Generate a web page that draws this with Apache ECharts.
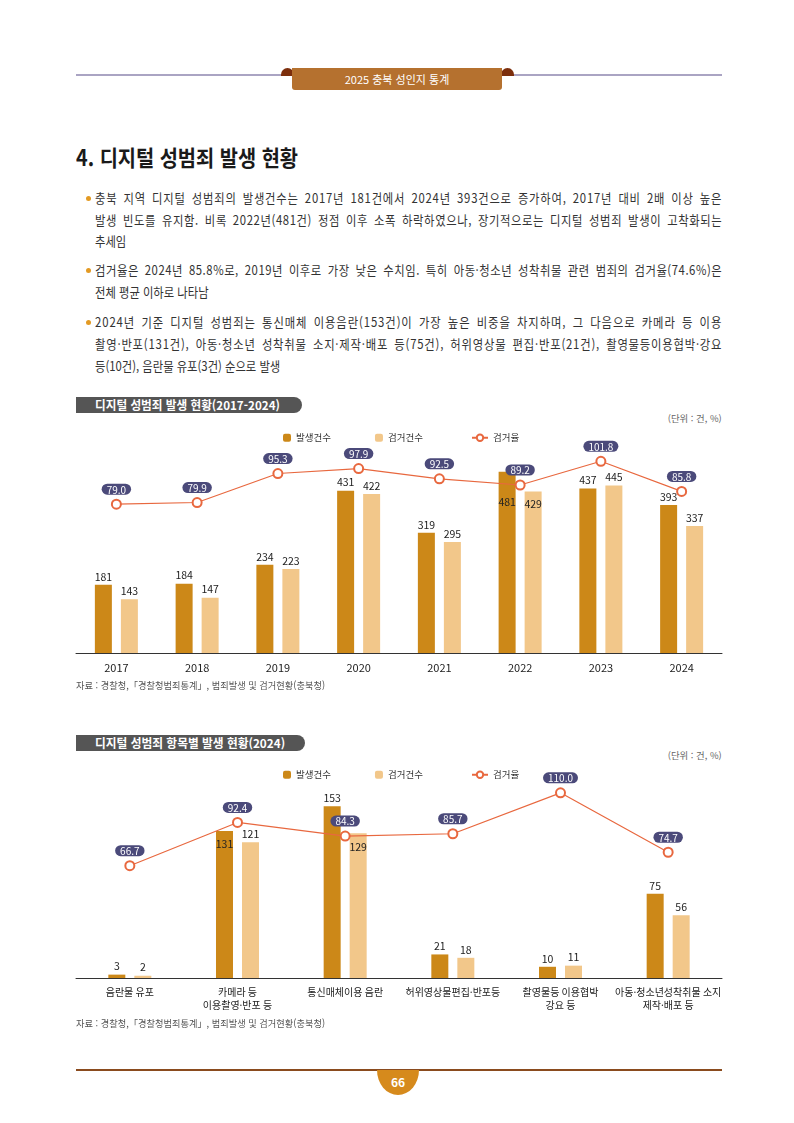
<!DOCTYPE html>
<html lang="ko">
<head>
<meta charset="utf-8">
<script src="https://cdn.jsdelivr.net/npm/echarts@6/dist/echarts.min.js"></script>
<style>
    body { margin: 0; background: #fff; font-family: 'Noto Sans CJK KR', 'Noto Sans', sans-serif; color: #222; }
    #page { position: relative; width: 794px; height: 1123px; overflow: hidden; }
    .abs { position: absolute; white-space: nowrap; }
    .fit { transform-origin: left center; }
    .line { position: absolute; left: 95px; width: 721px; height: 22px; line-height: 22px; font-size: 13px; color: #333;
        transform: scaleX(0.87); transform-origin: left center; white-space: nowrap; }
    .just { text-align: justify; text-align-last: justify; }
    .dot { position: absolute; left: 86px; width: 5px; height: 5px; border-radius: 50%; background: #e39a23; }
    .tab { position: absolute; left: 76px; height: 16px; background: #555; border-radius: 0 8px 8px 0; }
    .tab span { position: absolute; left: 19px; top: 0; line-height: 16px; font-size: 12px; font-weight: bold; color: #fff; white-space: nowrap; transform-origin: left center; }
    .unit { position: absolute; right: 72px; font-size: 9px; color: #666; white-space: nowrap; transform-origin: right center; }
    .src { position: absolute; left: 76px; font-size: 9.5px; color: #555; white-space: nowrap; transform-origin: left center; }
    .chart { position: absolute; left: 0; width: 794px; height: 320px; }
</style>
</head>
<body>
<div id="page">
    <!-- 상단 머리글 -->
    <div class="abs" style="left:76px;top:74px;width:646px;height:2px;background:#aaa4c3;"></div>
    <div class="abs" style="left:281px;top:68px;width:13px;height:8px;background:#7c2e0c;border-radius:7px 7px 0 0;"></div>
    <div class="abs" style="left:501px;top:68px;width:13px;height:8px;background:#7c2e0c;border-radius:7px 7px 0 0;"></div>
    <div class="abs" style="left:292px;top:68px;width:210px;height:22px;background:#b5712f;border-radius:0 0 3px 3px;
        color:#fff;font-size:11px;line-height:22px;text-align:center;">2025 충북 성인지 통계</div>

    <div class="abs fit" data-w="222" style="left:76px;top:141px;font-size:22px;font-weight:bold;color:#1a1a1a;line-height:30px;">4. 디지털 성범죄 발생 현황</div>

    <!-- 본문 -->
    <div class="dot" style="top:196px;"></div>
    <div class="line just" style="top:187px;">충북 지역 디지털 성범죄의 발생건수는 2017년 181건에서 2024년 393건으로 증가하여, 2017년 대비 2배 이상 높은</div>
    <div class="line just" style="top:209px;">발생 빈도를 유지함. 비록 2022년(481건) 정점 이후 소폭 하락하였으나, 장기적으로는 디지털 성범죄 발생이 고착화되는</div>
    <div class="line" style="top:230px;">추세임</div>
    <div class="dot" style="top:268px;"></div>
    <div class="line just" style="top:259px;">검거율은 2024년 85.8%로, 2019년 이후로 가장 낮은 수치임. 특히 아동·청소년 성착취물 관련 범죄의 검거율(74.6%)은</div>
    <div class="line" style="top:281px;">전체 평균 이하로 나타남</div>
    <div class="dot" style="top:320px;"></div>
    <div class="line just" style="top:311px;">2024년 기준 디지털 성범죄는 통신매체 이용음란(153건)이 가장 높은 비중을 차지하며, 그 다음으로 카메라 등 이용</div>
    <div class="line just" style="top:333px;">촬영·반포(131건), 아동·청소년 성착취물 소지·제작·배포 등(75건), 허위영상물 편집·반포(21건), 촬영물등이용협박·강요</div>
    <div class="line" style="top:355px;">등(10건), 음란물 유포(3건) 순으로 발생</div>

    <!-- 그래프 1 -->
    <div class="tab" style="top:397px;width:226px;"><span data-w="185">디지털 성범죄 발생 현황(2017-2024)</span></div>
    <div class="unit" data-w="54" style="top:412px;">(단위 : 건, %)</div>
    <div id="chart1" class="chart" style="top:380px;"></div>
    <div class="src" data-w="249" style="top:678px;">자료 : 경찰청,「경찰청범죄통계」, 범죄발생 및 검거현황(충북청)</div>

    <!-- 그래프 2 -->
    <div class="tab" style="top:735px;width:229px;"><span data-w="190">디지털 성범죄 항목별 발생 현황(2024)</span></div>
    <div class="unit" data-w="54" style="top:749px;">(단위 : 건, %)</div>
    <div id="chart2" class="chart" style="top:715px;"></div>
    <div class="src" data-w="249" style="top:1016px;">자료 : 경찰청,「경찰청범죄통계」, 범죄발생 및 검거현황(충북청)</div>

    <!-- 하단 -->
    <div class="abs" style="left:76px;top:1069px;width:646px;height:1.5px;background:#8a4b1e;"></div>
    <div class="abs" style="left:377px;top:1070px;width:42px;height:25px;background:#d68a1c;border-radius:0 0 21px 21px / 0 0 25px 25px;
        color:#fff;font-size:12px;font-weight:bold;text-align:center;line-height:24px;">66</div>
</div>

<script>
    // 2017-2024 연도별
    const years = ['2017', '2018', '2019', '2020', '2021', '2022', '2023', '2024'];
    const occurYear = [181, 184, 234, 431, 319, 481, 437, 393];
    const arrestYear = [143, 147, 223, 422, 295, 429, 445, 337];
    const rateYear = [79.0, 79.9, 95.3, 97.9, 92.5, 89.2, 101.8, 85.8];

    // 2024 항목별
    const items = ['음란물 유포', '카메라 등\n이용촬영·반포 등', '통신매체이용 음란', '허위영상물편집·반포등',
        '촬영물등 이용협박\n강요 등', '아동·청소년성착취물 소지\n제작·배포 등'];
    const occurItem = [3, 131, 153, 21, 10, 75];
    const arrestItem = [2, 121, 129, 18, 11, 56];
    const rateItem = [66.7, 92.4, 84.3, 85.7, 110.0, 74.7];

    const FONT = "'Noto Sans CJK KR', sans-serif";
    const DARK = '#cc8818', LIGHT = '#f2c78a', LINE = '#e8683f', PILL = '#4b4a7a';

    /** 라벨을 막대 안쪽으로 내리는 항목: {index: offsetY} */
    function barData(values, inside){
        return values.map((v, i) => {
            if (inside[i] === undefined) return v;
            return {value: v, label: {position: 'insideTop', offset: [0, inside[i]]}};
        });
    }

    function makeOption(cats, occur, arrest, rate, cfg){
        return {
            animation: false,
            textStyle: {fontFamily: FONT},
            grid: {left: 76, right: 72, top: cfg.top, bottom: cfg.bottom},
            legend: [{
                data: ['발생건수', '검거건수'], left: 278, top: cfg.legendTop,
                itemWidth: 8, itemHeight: 8, itemGap: 44,
                textStyle: {fontSize: 9.5, color: '#333', fontFamily: FONT}
            }, {
                data: ['검거율'], left: 466, top: cfg.legendTop,
                itemWidth: 16, itemHeight: 8,
                textStyle: {fontSize: 9.5, color: '#333', fontFamily: FONT}
            }],
            xAxis: {
                type: 'category', data: cats,
                axisLine: {lineStyle: {color: '#333', width: 1}},
                axisTick: {show: false},
                axisLabel: {interval: 0, fontSize: cfg.labelSize, color: '#222', margin: 8, lineHeight: 13, fontFamily: FONT}
            },
            yAxis: [
                {type: 'value', min: 0, max: cfg.barMax, show: false, splitLine: {show: false}},
                {type: 'value', min: 0, max: 120, show: false, splitLine: {show: false}}
            ],
            series: [{
                name: '발생건수', type: 'bar', data: barData(occur, cfg.insideOccur),
                barWidth: 17, barGap: '53%', itemStyle: {color: DARK},
                label: {show: true, position: 'top', distance: 3, fontSize: 10.5, color: '#222', fontFamily: FONT}
            }, {
                name: '검거건수', type: 'bar', data: barData(arrest, cfg.insideArrest),
                barWidth: 17, itemStyle: {color: LIGHT},
                label: {show: true, position: 'top', distance: 3, fontSize: 10.5, color: '#222', fontFamily: FONT}
            }, {
                name: '검거율', type: 'line', yAxisIndex: 1, data: rate, z: 5,
                symbol: 'emptyCircle', symbolSize: 9,
                lineStyle: {color: LINE, width: 1.2},
                itemStyle: {color: LINE, borderWidth: 1.2},
                label: {
                    show: true, position: 'top', distance: 4,
                    formatter: p => p.value.toFixed(1),
                    backgroundColor: PILL, borderRadius: 6, padding: [1, 5, 0, 5],
                    color: '#fff', fontSize: 10, fontFamily: FONT
                }
            }]
        };
    }

    let chart1 = echarts.init(document.getElementById('chart1'));
    chart1.setOption(makeOption(years, occurYear, arrestYear, rateYear, {
        top: 47, bottom: 47, legendTop: 48, barMax: 600, labelSize: 11,
        insideOccur: {5: 22}, insideArrest: {5: 4}
    }));

    let chart2 = echarts.init(document.getElementById('chart2'));
    chart2.setOption(makeOption(items, occurItem, arrestItem, rateItem, {
        top: 61, bottom: 57, legendTop: 50, barMax: 180, labelSize: 10,
        insideOccur: {1: 5}, insideArrest: {2: 6}
    }));

    // 폭 맞추기 (원본 글꼴이 좁은 글꼴이라 가로로 줄임)
    document.querySelectorAll('[data-w]').forEach(el => {
        let w = el.getBoundingClientRect().width;
        let target = parseFloat(el.getAttribute('data-w'));
        if (w > 0) el.style.transform = 'scaleX(' + (target / w).toFixed(3) + ')';
    });

    // 양쪽 정렬 줄: 낱말 사이가 너무 벌어지지 않게 자간을 조금 늘림
    document.querySelectorAll('.just').forEach(el => {
        el.style.textAlignLast = 'left';
        let range = document.createRange();
        range.selectNodeContents(el);
        let w = range.getBoundingClientRect().width / 0.87;
        let text = el.textContent;
        let spaces = text.split(' ').length - 1;
        let ls = (721 - spaces * 2.5 - w) / text.length;
        if (ls > 0) el.style.letterSpacing = ls.toFixed(2) + 'px';
        el.style.textAlignLast = '';
    });
</script>
</body>
</html>
